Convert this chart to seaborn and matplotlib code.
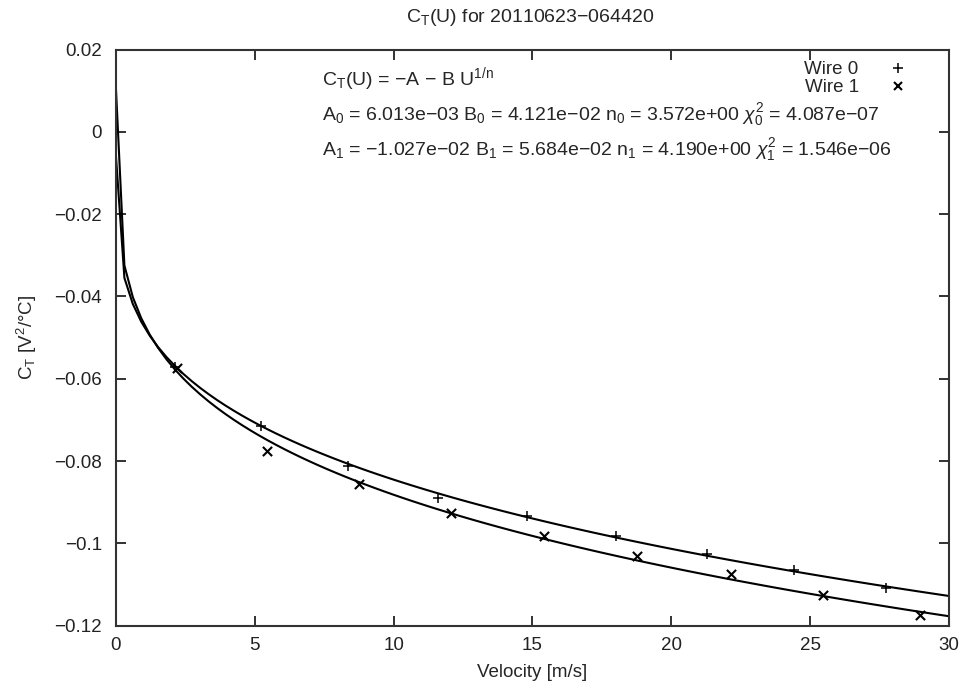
import numpy as np
import pandas as pd
import matplotlib
matplotlib.use("Agg")
import matplotlib.pyplot as plt
import seaborn as sns
from matplotlib.ticker import FixedLocator, FuncFormatter
from matplotlib.lines import Line2D

# ---- data ----
wire0_u = [2.14, 5.23, 8.35, 11.58, 14.79, 17.99, 21.27, 24.42, 27.72]
wire0_ct = [-0.0571, -0.0715, -0.0812, -0.0889, -0.0933, -0.0982, -0.1026, -0.1065, -0.1108]
wire1_u = [2.20, 5.44, 8.75, 12.06, 15.41, 18.77, 22.14, 25.46, 28.94]
wire1_ct = [-0.0575, -0.0775, -0.0856, -0.0927, -0.0982, -0.1031, -0.1075, -0.1125, -0.1174]

# fit parameters printed on the chart
fit_A = [6.013e-03, -1.027e-02]
fit_B = [4.121e-02, 5.684e-02]
fit_n = [3.572e+00, 4.190e+00]
fit_chi2 = [4.087e-07, 1.546e-06]

x_ticks = [0, 5, 10, 15, 20, 25, 30]
y_ticks = [0.02, 0, -0.02, -0.04, -0.06, -0.08, -0.1, -0.12]

title = "C$_\\mathregular{T}$(U) for 20110623\u2212064420"
FS = 13.5
FS_NOTE = 14

# ---- style ----
sns.set_theme(style="ticks")
plt.rcParams["font.family"] = ["Liberation Sans", "DejaVu Sans"]
plt.rcParams["mathtext.fontset"] = "custom"
plt.rcParams["mathtext.rm"] = "Liberation Sans"
plt.rcParams["mathtext.it"] = "Liberation Sans:italic"
plt.rcParams["mathtext.sf"] = "Liberation Sans"
plt.rcParams["axes.unicode_minus"] = True

fig = plt.figure(figsize=(9.65, 6.88), dpi=100)
ax = fig.add_axes([0.1202, 0.0907, 0.8632, 0.8373])

# fitted curves (gnuplot default 100 samples over the x range)
u_grid = np.linspace(0, 30, 100)
curve_frames = []
for i in range(2):
    ct = -fit_A[i] - fit_B[i] * u_grid ** (1.0 / fit_n[i])
    curve_frames.append(pd.DataFrame({"U": u_grid, "CT": ct, "wire": f"fit{i}"}))
curves = pd.concat(curve_frames, ignore_index=True)
sns.lineplot(data=curves, x="U", y="CT", units="wire", estimator=None,
             color="black", linewidth=1.5, ax=ax, legend=False, sort=False)

pts0 = pd.DataFrame({"U": wire0_u, "CT": wire0_ct})
pts1 = pd.DataFrame({"U": wire1_u, "CT": wire1_ct})
sns.scatterplot(data=pts0, x="U", y="CT", marker="+", s=50, color="black",
                linewidth=1.1, ax=ax, legend=False, zorder=5)
sns.scatterplot(data=pts1, x="U", y="CT", marker="x", s=44, color="black",
                linewidth=1.5, ax=ax, legend=False, zorder=5)

ax.set_xlim(0, 30)
ax.set_ylim(-0.12, 0.02)
ax.xaxis.set_major_locator(FixedLocator(x_ticks))
ax.yaxis.set_major_locator(FixedLocator(y_ticks))


def fmt(v, pos):
    if abs(v) < 1e-12:
        return "0"
    return f"{v:g}".replace("-", "\u2212")


ax.xaxis.set_major_formatter(FuncFormatter(fmt))
ax.yaxis.set_major_formatter(FuncFormatter(fmt))
ax.tick_params(direction="in", length=7, width=1.3, colors="#222222",
               labelsize=FS, top=True, right=True)
ax.tick_params(axis="x", pad=8.5)
ax.tick_params(axis="y", pad=10)
for sp in ax.spines.values():
    sp.set_linewidth(1.5)
    sp.set_color("#333333")

ax.set_xlabel("Velocity [m/s]", fontsize=FS, labelpad=7)
ax.set_ylabel("C$_\\mathregular{T}$ [V$^\\mathregular{2}$/\u00b0C]", fontsize=FS, labelpad=11)
fig.text(0.549, 0.974, title, ha="center", va="center", fontsize=FS + 0.5)

# annotation text
ax.text(0.247, 0.9385, "C$_\\mathregular{T}$(U) = \u2212A \u2212 B U$^\\mathregular{1/n}$",
        transform=ax.transAxes, fontsize=FS_NOTE, va="baseline", ha="left")
for i, ypos in enumerate([0.8778, 0.8170]):
    a = f"{fit_A[i]:.3e}".replace("-", "\u2212")
    b = f"{fit_B[i]:.3e}".replace("-", "\u2212")
    n = f"{fit_n[i]:.3e}".replace("-", "\u2212")
    c = f"{fit_chi2[i]:.3e}".replace("-", "\u2212")
    s = (f"A$_\\mathregular{{{i}}}$ = {a} B$_\\mathregular{{{i}}}$ = {b} "
         f"n$_\\mathregular{{{i}}}$ = {n} $\\chi^\\mathregular{{2}}_\\mathregular{{{i}}}$ = {c}")
    ax.text(0.247, ypos, s, transform=ax.transAxes, fontsize=FS_NOTE, va="baseline", ha="left")

handles = [Line2D([], [], marker="+", color="black", linestyle="none", markersize=7, markeredgewidth=1.1),
           Line2D([], [], marker="x", color="black", linestyle="none", markersize=6, markeredgewidth=1.5)]
leg = ax.legend(handles, ["Wire 0", "Wire 1"], loc="upper right", frameon=False,
                markerfirst=False, fontsize=FS, handlelength=1.0, handletextpad=1.6,
                labelspacing=0.05, borderaxespad=0.0, borderpad=0.0,
                bbox_to_anchor=(907.4 / 965, 1 - 61 / 688), bbox_transform=fig.transFigure)

fig.savefig("out.png", dpi=100)
